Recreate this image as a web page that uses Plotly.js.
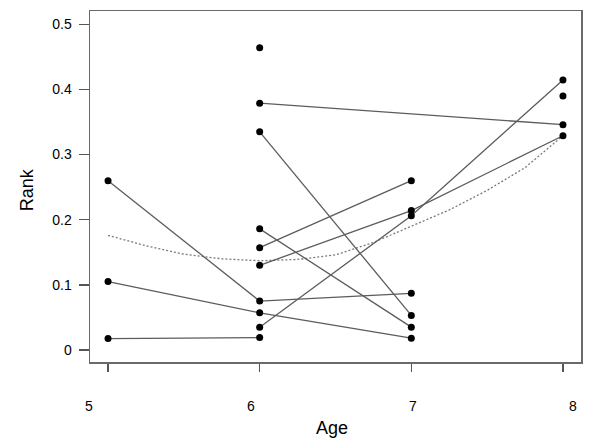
<!DOCTYPE html>
<html>
<head>
<meta charset="utf-8">
<script src="https://cdn.plot.ly/plotly-3.0.1.min.js"></script>
<style>html,body{margin:0;padding:0;background:#fff;}#chart{width:600px;height:448px;}</style>
</head>
<body>
<div id="chart"></div>
<script>
// Individual trajectories (age, rank)
const s1Age = [5, 6, 7],  s1Rank = [0.260, 0.075, 0.087];
const s2Age = [5, 6, 7],  s2Rank = [0.105, 0.057, 0.018];
const s3Age = [5, 6],     s3Rank = [0.0175, 0.019];
const s4Age = [6, 8],     s4Rank = [0.379, 0.346];
const s5Age = [6, 7],     s5Rank = [0.335, 0.053];
const s6Age = [6, 7],     s6Rank = [0.186, 0.035];
const s7Age = [6, 7],     s7Rank = [0.157, 0.260];
const s8Age = [6, 7, 8],  s8Rank = [0.130, 0.214, 0.329];
const s9Age = [6, 7, 8],  s9Rank = [0.035, 0.206, 0.4145];
const s10Age = [6],       s10Rank = [0.464];
const s11Age = [8],       s11Rank = [0.390];

// Smoothed trend (dotted curve)
const smoothAge  = [5, 5.25, 5.5, 5.75, 6, 6.25, 6.5, 6.75, 7, 7.25, 7.5, 7.75, 8];
const smoothRank = [0.176, 0.160, 0.147, 0.140, 0.137, 0.139, 0.146, 0.165, 0.190, 0.215, 0.245, 0.280, 0.329];

const xTickVals = [5, 6, 7, 8];
const xTickLabels = ['5', '6', '7', '8'];
const yTickVals = [0, 0.1, 0.2, 0.3, 0.4, 0.5];
const yTickLabels = ['0', '0.1', '0.2', '0.3', '0.4', '0.5'];

const subjects = [
  [s1Age, s1Rank], [s2Age, s2Rank], [s3Age, s3Rank], [s4Age, s4Rank],
  [s5Age, s5Rank], [s6Age, s6Rank], [s7Age, s7Rank], [s8Age, s8Rank],
  [s9Age, s9Rank], [s10Age, s10Rank], [s11Age, s11Rank]
];

const traces = [{
  x: smoothAge, y: smoothRank, mode: 'lines', type: 'scatter',
  line: {color: '#7a7a7a', width: 1.3, dash: '2px,2px'}, hoverinfo: 'skip'
}];
subjects.forEach(function (s) {
  traces.push({
    x: s[0], y: s[1], type: 'scatter', mode: 'lines+markers',
    line: {color: '#5c5c5c', width: 1.3},
    marker: {color: '#000', size: 7}
  });
});

const font = {family: 'Liberation Sans, Arial, sans-serif', color: '#000'};
// x tick labels are drawn slightly offset from the ticks in the original figure
const labelPaperX = [-0.0026, 0.3275, 0.6576, 0.9843];
const annotations = xTickLabels.map(function (t, i) {
  return {text: t, x: labelPaperX[i], xref: 'paper', y: -0.1245, yref: 'paper',
          showarrow: false, xanchor: 'center', yanchor: 'middle',
          font: Object.assign({size: 14}, font)};
});
annotations.push({text: 'Age', x: 0.493, xref: 'paper', y: -0.188, yref: 'paper',
  showarrow: false, xanchor: 'center', yanchor: 'middle', font: Object.assign({size: 18}, font)});
annotations.push({text: 'Rank', x: -0.128, xref: 'paper', y: 0.49, yref: 'paper', textangle: -90,
  showarrow: false, xanchor: 'center', yanchor: 'middle', font: Object.assign({size: 18}, font)});

const layout = {
  width: 600, height: 448,
  margin: {l: 90, r: 19, t: 11, b: 86},
  paper_bgcolor: '#fff', plot_bgcolor: '#fff',
  showlegend: false,
  font: font,
  xaxis: {
    range: [4.881, 8.119], tickvals: xTickVals, ticktext: xTickLabels, showticklabels: false,
    showgrid: false, zeroline: false, showline: true, mirror: true,
    linecolor: '#6a6a6a', linewidth: 1.5, ticks: 'outside', ticklen: 8, tickwidth: 1.5, tickcolor: '#555'
  },
  yaxis: {
    range: [-0.0185, 0.5205], tickvals: yTickVals, ticktext: yTickLabels,
    showgrid: false, zeroline: false, showline: true, mirror: true,
    linecolor: '#6a6a6a', linewidth: 1.5, ticks: 'outside', ticklen: 10, tickwidth: 1.5, tickcolor: '#555',
    tickfont: Object.assign({size: 14}, font), ticklabelstandoff: 4
  },
  annotations: annotations
};

Plotly.newPlot('chart', traces, layout, {displayModeBar: false, staticPlot: true});
</script>
</body>
</html>
